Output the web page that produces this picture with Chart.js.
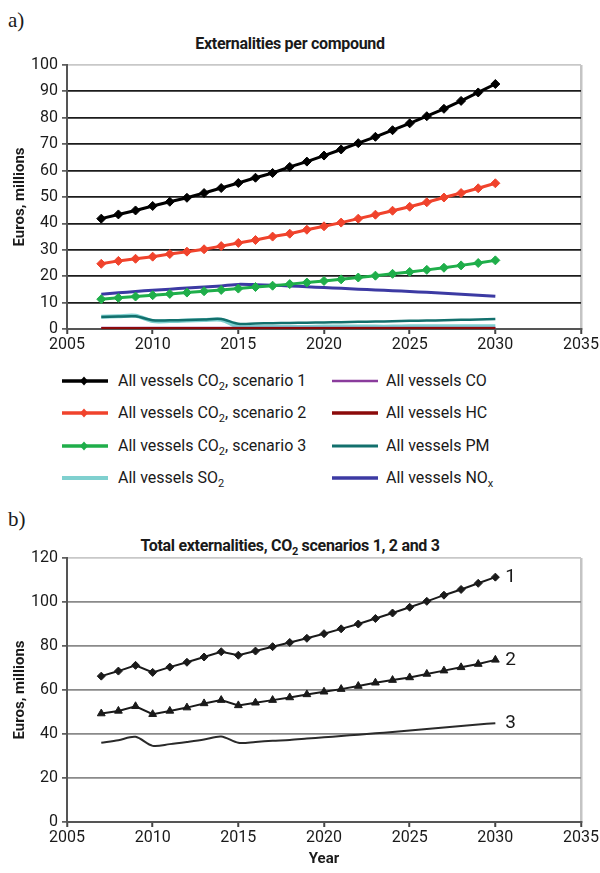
<!DOCTYPE html>
<html>
<head>
<meta charset="utf-8">
<script src="https://cdn.jsdelivr.net/npm/chart.js@4.4.1/dist/chart.umd.min.js"></script>
<style>
  body { margin: 0; width: 600px; height: 873px; background: #fff; position: relative; overflow: hidden;
         font-family: Roboto, 'DejaVu Sans', sans-serif; color: #1a1a1a; }
  .tag { position: absolute; left: 8px; font-family: 'Liberation Serif', serif; font-size: 21px; }
  .ttl { position: absolute; left: 20px; width: 540px; text-align: center; font-weight: bold; font-size: 16px;
         letter-spacing: -0.3px; }
  .ttl sub, .item sub { font-size: 11px; vertical-align: -4px; line-height: 0; }
  canvas { position: absolute; left: 0; }
  .item { position: absolute; font-size: 16px; height: 20px; line-height: 20px; white-space: nowrap; }
  .item svg { position: absolute; top: 5px; }
  .item span { position: absolute; }
</style>
</head>
<body>
<div class="tag" style="top:8px">a)</div>
<div class="ttl" style="top:34px">Externalities per compound</div>
<canvas id="c1" width="600" height="362" style="top:0"></canvas>
<div id="legend"></div>
<div class="tag" style="top:507px">b)</div>
<div class="ttl" style="top:536px">Total externalities, CO<sub>2</sub> scenarios 1, 2 and 3</div>
<canvas id="c2" width="600" height="373" style="top:500px"></canvas>
<script>
// data
const years = [2007, 2008, 2009, 2010, 2011, 2012, 2013, 2014, 2015, 2016, 2017, 2018,
               2019, 2020, 2021, 2022, 2023, 2024, 2025, 2026, 2027, 2028, 2029, 2030];

const co2s1 = [41.8, 43.4, 44.9, 46.6, 48.2, 49.7, 51.5, 53.4, 55.3, 57.3, 59.1, 61.4,
               63.4, 65.7, 68.0, 70.4, 72.8, 75.3, 77.9, 80.6, 83.4, 86.4, 89.6, 92.8];
const co2s2 = [24.7, 25.8, 26.6, 27.4, 28.4, 29.3, 30.2, 31.4, 32.6, 33.7, 35.0, 36.1,
               37.6, 38.9, 40.3, 41.8, 43.3, 44.8, 46.3, 48.0, 49.8, 51.5, 53.3, 55.2];
const co2s3 = [11.3, 11.8, 12.3, 12.8, 13.3, 13.8, 14.3, 14.8, 15.3, 15.9, 16.4, 17.0,
               17.6, 18.2, 18.8, 19.5, 20.2, 20.9, 21.6, 22.4, 23.2, 24.1, 25.0, 26.0];
const so2   = [4.6, 4.8, 5.0, 3.0, 3.0, 3.2, 3.4, 3.5, 0.8, 0.8, 0.8, 0.8,
               0.8, 0.9, 0.9, 0.9, 0.9, 0.9, 1.0, 1.0, 1.0, 1.0, 1.0, 1.0];
const co    = [0.5, 0.5, 0.5, 0.5, 0.5, 0.5, 0.5, 0.5, 0.5, 0.5, 0.5, 0.5,
               0.5, 0.5, 0.5, 0.5, 0.5, 0.5, 0.5, 0.5, 0.5, 0.5, 0.5, 0.5];
const hc    = [0.2, 0.2, 0.2, 0.2, 0.2, 0.2, 0.2, 0.2, 0.2, 0.2, 0.2, 0.2,
               0.2, 0.2, 0.2, 0.2, 0.2, 0.2, 0.2, 0.2, 0.2, 0.2, 0.2, 0.2];
const pm    = [4.5, 4.7, 4.8, 3.3, 3.3, 3.4, 3.6, 3.8, 2.0, 2.1, 2.2, 2.3,
               2.4, 2.5, 2.6, 2.7, 2.8, 2.9, 3.1, 3.2, 3.3, 3.5, 3.6, 3.8];
const nox   = [13.2, 13.7, 14.2, 14.7, 15.1, 15.5, 15.9, 16.3, 16.9, 16.8, 16.6, 16.3,
               16.0, 15.7, 15.4, 15.1, 14.8, 14.5, 14.2, 13.9, 13.5, 13.2, 12.8, 12.4];

const total1 = [66.3, 68.6, 71.2, 68.0, 70.4, 72.6, 75.0, 77.4, 75.8, 77.7, 79.7, 81.6,
                83.5, 85.6, 87.8, 90.0, 92.5, 95.0, 97.6, 100.3, 103.1, 105.7, 108.5, 111.3];
const total2 = [49.3, 50.5, 52.6, 49.0, 50.5, 52.0, 53.9, 55.4, 53.0, 54.2, 55.4, 56.6,
                58.0, 59.2, 60.4, 61.8, 63.3, 64.5, 65.7, 67.3, 68.8, 70.3, 71.8, 73.7];
const total3 = [36.0, 37.2, 38.7, 34.6, 35.4, 36.4, 37.5, 38.9, 36.0, 36.4, 36.9, 37.3,
                37.9, 38.5, 39.1, 39.7, 40.3, 40.9, 41.6, 42.3, 43.0, 43.6, 44.3, 44.9];

const legendNames = ['All vessels CO<sub>2</sub>, scenario 1', 'All vessels CO<sub>2</sub>, scenario 2',
                     'All vessels CO<sub>2</sub>, scenario 3', 'All vessels SO<sub>2</sub>',
                     'All vessels CO', 'All vessels HC', 'All vessels PM', 'All vessels NO<sub>x</sub>'];
const endLabels = ['1', '2', '3'];

const FONT = "Roboto, 'DejaVu Sans', sans-serif";
const pts = arr => arr.map((v, i) => ({ x: years[i], y: v }));

function line(label, data, color, width, marker, order, tension) {
  return {
    label: label, data: pts(data), borderColor: color, backgroundColor: color,
    borderWidth: width, pointStyle: marker || false, pointRadius: marker ? 4.5 : 0,
    pointBorderWidth: 1, order: order, tension: tension || 0
  };
}

function xScale(height) {
  return {
    type: 'linear', min: 2005, max: 2035,
    ticks: { stepSize: 5, color: '#1a1a1a', font: { family: FONT, size: 16 }, padding: 1, maxRotation: 0,
             callback: v => String(v) },
    grid: { color: c => c.tick && c.tick.value === 2035 ? '#c4c4c4' : 'rgba(0,0,0,0)',
            lineWidth: 2.5, tickColor: '#444', tickLength: 5, tickWidth: 2 },
    border: { color: '#555', width: 2 },
    afterFit: s => { s.height = height; }
  };
}

function yScale(max, step, gridColor) {
  return {
    min: 0, max: max,
    ticks: { stepSize: step, color: '#1a1a1a', font: { family: FONT, size: 16 }, padding: 4 },
    grid: { color: c => c.tick && c.tick.value === max ? '#c8c8c8' : gridColor,
            lineWidth: 1.8, tickColor: '#444', tickLength: 5, tickWidth: 1.5 },
    border: { color: '#555', width: 2 },
    title: { display: true, text: 'Euros, millions', color: '#1a1a1a',
             font: { family: FONT, size: 15, weight: 'bold' }, padding: { top: 11, bottom: 0 } },
    afterFit: s => { s.width = 67; }
  };
}

// numbers 1, 2, 3 at the end of each total line
const endLabelPlugin = {
  id: 'endLabels',
  afterDatasetsDraw(chart) {
    const ctx = chart.ctx;
    ctx.save();
    ctx.font = '19px ' + FONT;
    ctx.fillStyle = '#1a1a1a';
    ctx.textBaseline = 'middle';
    chart.data.datasets.forEach((ds, i) => {
      const meta = chart.getDatasetMeta(i);
      const p = meta.data[meta.data.length - 1];
      ctx.fillText(endLabels[i], p.x + 10, p.y);
    });
    ctx.restore();
  }
};

const chart1 = new Chart(document.getElementById('c1'), {
  type: 'line',
  data: {
    datasets: [
      line('All vessels CO₂, scenario 1', co2s1, '#000000', 3, 'rectRot', 1),
      line('All vessels CO₂, scenario 2', co2s2, '#f0432c', 3, 'rectRot', 2),
      line('All vessels CO₂, scenario 3', co2s3, '#1fae4a', 3, 'rectRot', 3),
      line('All vessels SO₂', so2, '#7fd0cf', 4, false, 8, 0.3),
      line('All vessels CO', co, '#8a3c9c', 2, false, 7),
      line('All vessels HC', hc, '#8b0a0a', 3, false, 5),
      line('All vessels PM', pm, '#12706d', 2.5, false, 6, 0.3),
      line('All vessels NOₓ', nox, '#3c3aa3', 3, false, 4, 0.2)
    ]
  },
  options: {
    responsive: false, animation: false, devicePixelRatio: 1,
    layout: { padding: { top: 65, right: 17, left: 0, bottom: 0 } },
    plugins: { legend: { display: false }, tooltip: { enabled: false } },
    scales: { x: xScale(33), y: yScale(100, 10, '#1c1c1c') }
  }
});

const tot1 = line('Total, scenario 1', total1, '#1a1a1a', 2, 'rectRot', 1);
const tot2 = line('Total, scenario 2', total2, '#1a1a1a', 2, 'triangle', 2);
const tot3 = line('Total, scenario 3', total3, '#2a2a2a', 2, false, 3, 0.3);
tot1.pointRadius = 4;

new Chart(document.getElementById('c2'), {
  type: 'line',
  data: { datasets: [tot1, tot2, tot3] },
  options: {
    responsive: false, animation: false, devicePixelRatio: 1,
    layout: { padding: { top: 58, right: 17, left: 0, bottom: 0 } },
    plugins: { legend: { display: false }, tooltip: { enabled: false } },
    scales: {
      x: Object.assign(xScale(51), {
        title: { display: true, text: 'Year', color: '#1a1a1a',
                 font: { family: FONT, size: 15, weight: 'bold' }, padding: { top: 0, bottom: 5 } }
      }),
      y: yScale(120, 20, '#8a8a8a')
    }
  },
  plugins: [endLabelPlugin]
});

// legend in two columns, built from chart1 datasets
const legend = document.getElementById('legend');
const colX = [62, 332], rowY = [371, 403, 436, 468];
chart1.data.datasets.forEach((ds, i) => {
  const col = Math.floor(i / 4), row = i % 4;
  const item = document.createElement('div');
  item.className = 'item';
  item.style.left = colX[col] + 'px';
  item.style.top = rowY[row] + 'px';
  const mark = ds.pointStyle ? '<path d="M22 0.5 L26 5 L22 9.5 L18 5 Z" fill="' + ds.borderColor + '"/>' : '';
  item.innerHTML = '<svg width="46" height="10"><line x1="0" y1="5" x2="46" y2="5" stroke="' + ds.borderColor +
    '" stroke-width="' + Math.min(ds.borderWidth + 0.5, 4) + '"/>' + mark + '</svg><span style="left:' +
    (col ? 54 : 56) + 'px">' + legendNames[i] + '</span>';
  legend.appendChild(item);
});
</script>
</body>
</html>
